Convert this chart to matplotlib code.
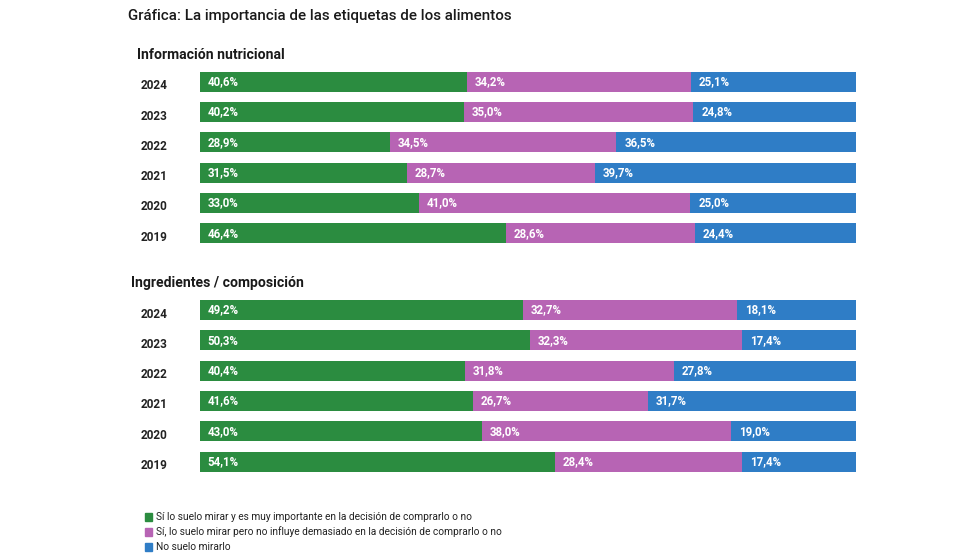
import matplotlib
matplotlib.use('Agg')
import matplotlib.pyplot as plt
import numpy as np

# ── Datos ─────────────────────────────────────────────────────────────────
years = ["2024", "2023", "2022", "2021", "2020", "2019"]

nutri_importante = [40.6, 40.2, 28.9, 31.5, 33.0, 46.4]
nutri_no_influye = [34.2, 35.0, 34.5, 28.7, 41.0, 28.6]
nutri_no_mira    = [25.1, 24.8, 36.5, 39.7, 25.0, 24.4]

ingr_importante = [49.2, 50.3, 40.4, 41.6, 43.0, 54.1]
ingr_no_influye = [32.7, 32.3, 31.8, 26.7, 38.0, 28.4]
ingr_no_mira    = [18.1, 17.4, 27.8, 31.7, 19.0, 17.4]

legend_labels = ["Sí lo suelo mirar y es muy importante en la decisión de comprarlo o no",
                 "Sí, lo suelo mirar pero no influye demasiado en la decisión de comprarlo o no",
                 "No suelo mirarlo"]
section_titles = ["Información nutricional", "Ingredientes / composición"]
title = "Gráfica: La importancia de las etiquetas de los alimentos"

colors = ["#2b8c40", "#b764b4", "#2f7dc6"]
FONT = ["Roboto", "DejaVu Sans"]
W, H = 980, 560

fig = plt.figure(figsize=(W / 100, H / 100), dpi=100)
fig.patch.set_facecolor("white")

# eje con coordenadas en pixeles verticales (0 arriba)
ax = fig.add_axes([200 / W, 0, 656 / W, 1])
ax.set_xlim(0, 100)
ax.set_ylim(H, 0)
ax.axis("off")


def px(x, y):
    return x / W, 1 - y / H


def draw_block(series, y0, step=30.3):
    ypos = y0 + np.arange(len(years)) * step
    # cada fila ocupa el ancho completo (las sumas no dan exactamente 100)
    total = np.sum([np.array(s) for s in series], axis=0)
    left = np.zeros(len(years))
    for vals, col in zip(series, colors):
        vals = np.array(vals)
        widths = vals / total * 100
        ax.barh(ypos, widths, left=left, height=20, color=col, edgecolor="none")
        for yy, l, v in zip(ypos, left, vals):
            ax.text(l + 1.2, yy, f"{v:.1f}%".replace(".", ","), color="white",
                    fontsize=8.3, fontweight="bold", va="center", ha="left",
                    family=FONT)
        left += widths
    for yy, yr in zip(ypos, years):
        fig.text(*px(141, yy + 4), yr, fontsize=8.5, fontweight="bold", va="center",
                 ha="left", color="#222222", family=FONT)


draw_block([nutri_importante, nutri_no_influye, nutri_no_mira], 81.7)
draw_block([ingr_importante, ingr_no_influye, ingr_no_mira], 310)

fig.text(*px(128, 16), title, fontsize=10.9, fontweight="medium", va="center",
         ha="left", color="#1a1a1a", family=FONT)
fig.text(*px(137, 55), section_titles[0], fontsize=10.1, fontweight="bold",
         va="center", ha="left", color="#1a1a1a", family=FONT)
fig.text(*px(131, 283), section_titles[1], fontsize=10.1, fontweight="bold",
         va="center", ha="left", color="#1a1a1a", family=FONT)

# leyenda
for i, (lbl, col) in enumerate(zip(legend_labels, colors)):
    yy = 517 + i * 15
    fig.patches.append(plt.Rectangle(px(145, yy + 4), 7 / W, 8 / H, color=col,
                                     transform=fig.transFigure, figure=fig))
    fig.text(*px(156, yy), lbl, fontsize=7.3, va="center", ha="left",
             color="#222222", family=FONT)

plt.savefig("out.png", dpi=100)
plt.close()
